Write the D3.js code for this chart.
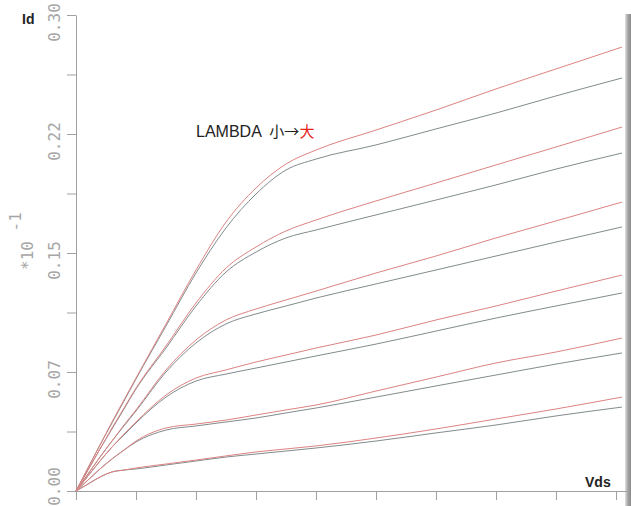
<!DOCTYPE html>
<html>
<head>
<meta charset="utf-8">
<script src="https://cdn.jsdelivr.net/npm/d3@7"></script>
<style>
  html, body { margin: 0; padding: 0; background: #fff; }
  svg { display: block; }
</style>
</head>
<body>
<svg id="chart" width="631" height="506"></svg>
<script>
// Drain voltage sample points (V) shared by every curve
const vds = [0, 0.1, 0.2, 0.3, 0.4, 0.5, 0.75, 1.0, 1.25, 1.5, 1.75, 2.0, 2.5, 3.0, 3.5, 4.0, 4.55];

// Drain current (x10^-1) for six gate voltages; "small" = low LAMBDA, "large" = high LAMBDA
const idSmall1 = [0, 0.0145, 0.0290, 0.0429, 0.0567, 0.0706, 0.1040, 0.1374, 0.1658, 0.1872, 0.2023, 0.2092, 0.2181, 0.2282, 0.2382, 0.2490, 0.2603];
const idLarge1 = [0, 0.0145, 0.0290, 0.0435, 0.0574, 0.0712, 0.1053, 0.1393, 0.1695, 0.1910, 0.2061, 0.2149, 0.2275, 0.2401, 0.2534, 0.2660, 0.2798];
const idSmall2 = [0, 0.0132, 0.0265, 0.0391, 0.0517, 0.0643, 0.0901, 0.1166, 0.1380, 0.1506, 0.1595, 0.1645, 0.1740, 0.1834, 0.1929, 0.2029, 0.2130];
const idLarge2 = [0, 0.0132, 0.0265, 0.0397, 0.0523, 0.0649, 0.0914, 0.1185, 0.1405, 0.1538, 0.1639, 0.1708, 0.1828, 0.1941, 0.2055, 0.2168, 0.2294];
const idSmall3 = [0, 0.0107, 0.0214, 0.0315, 0.0410, 0.0504, 0.0750, 0.0933, 0.1053, 0.1116, 0.1166, 0.1216, 0.1305, 0.1393, 0.1481, 0.1569, 0.1664];
const idLarge3 = [0, 0.0107, 0.0214, 0.0315, 0.0416, 0.0511, 0.0763, 0.0952, 0.1078, 0.1147, 0.1204, 0.1260, 0.1374, 0.1481, 0.1595, 0.1702, 0.1821];
const idSmall4 = [0, 0.0095, 0.0189, 0.0277, 0.0353, 0.0429, 0.0592, 0.0693, 0.0737, 0.0775, 0.0813, 0.0851, 0.0926, 0.1008, 0.1090, 0.1166, 0.1248];
const idLarge4 = [0, 0.0095, 0.0189, 0.0277, 0.0359, 0.0435, 0.0605, 0.0712, 0.0763, 0.0813, 0.0857, 0.0901, 0.0983, 0.1078, 0.1166, 0.1260, 0.1361];
const idSmall5 = [0, 0.0069, 0.0139, 0.0202, 0.0258, 0.0309, 0.0384, 0.0410, 0.0435, 0.0460, 0.0492, 0.0523, 0.0592, 0.0662, 0.0731, 0.0800, 0.0870];
const idLarge5 = [0, 0.0069, 0.0139, 0.0202, 0.0258, 0.0315, 0.0397, 0.0422, 0.0447, 0.0479, 0.0511, 0.0542, 0.0630, 0.0718, 0.0807, 0.0876, 0.0964];
const idSmall6 = [0, 0.0044, 0.0088, 0.0120, 0.0132, 0.0139, 0.0164, 0.0189, 0.0214, 0.0233, 0.0252, 0.0271, 0.0315, 0.0366, 0.0416, 0.0473, 0.0529];
const idLarge6 = [0, 0.0044, 0.0088, 0.0120, 0.0132, 0.0145, 0.0170, 0.0195, 0.0221, 0.0246, 0.0265, 0.0284, 0.0334, 0.0391, 0.0454, 0.0517, 0.0592];

const smallSeries = [idSmall1, idSmall2, idSmall3, idSmall4, idSmall5, idSmall6];
const largeSeries = [idLarge1, idLarge2, idLarge3, idLarge4, idLarge5, idLarge6];

// Axis ticks
const xTickValues = [0, 0.5, 1.0, 1.5, 2.0, 2.5, 3.0, 3.5, 4.0, 4.5];
const yTickValues = [0, 0.0375, 0.075, 0.1125, 0.15, 0.1875, 0.225, 0.2625, 0.30];
const yTickLabels = ["0.00", "", "0.07", "", "0.15", "", "0.22", "", "0.30"];

const svg = d3.select("#chart");
const axisColor = "#a0a0a0";
const smallColor = "#838c8d";
const largeColor = "#dc8482";

const x = d3.scaleLinear().domain([0, 4.6]).range([76, 628]);
const y = d3.scaleLinear().domain([0, 0.30]).range([491, 15]);

// Right-hand frame shading
const grad = svg.append("defs").append("linearGradient")
  .attr("id", "edge").attr("x1", 0).attr("x2", 1).attr("y1", 0).attr("y2", 0);
grad.append("stop").attr("offset", "0%").attr("stop-color", "#e4e4e4");
grad.append("stop").attr("offset", "45%").attr("stop-color", "#a8a8a8");
grad.append("stop").attr("offset", "100%").attr("stop-color", "#8a8a8a");
svg.append("rect").attr("x", 625).attr("y", 14).attr("width", 6).attr("height", 492)
  .attr("fill", "url(#edge)");

// X axis
const xAxis = svg.append("g")
  .attr("transform", `translate(0,${y(0)})`)
  .call(d3.axisBottom(x).tickValues(xTickValues).tickSize(9).tickSizeOuter(0).tickFormat(() => ""));
xAxis.selectAll("path, line").attr("stroke", axisColor).attr("stroke-width", 1);

// Y axis with rotated tick labels
const yAxis = svg.append("g")
  .attr("transform", `translate(${x(0)},0)`)
  .call(d3.axisLeft(y).tickValues(yTickValues).tickSize(9).tickSizeOuter(0)
    .tickFormat((d, i) => yTickLabels[i]));
yAxis.selectAll("path, line").attr("stroke", axisColor).attr("stroke-width", 1);
yAxis.selectAll("text")
  .attr("transform", "rotate(-90)")
  .attr("x", d => d === 0 ? 5 : -7)
  .attr("y", -16)
  .attr("dy", 0)
  .attr("text-anchor", "middle")
  .attr("fill", "#a6a6a6")
  .style("font-family", "'DejaVu Sans Mono', monospace")
  .style("font-size", "16px");

// Curves
const line = d3.line()
  .x((d, i) => x(vds[i]))
  .y(d => y(d))
  .curve(d3.curveMonotoneX);

svg.append("g").selectAll("path.small")
  .data(smallSeries).join("path")
  .attr("class", "small")
  .attr("d", line)
  .attr("fill", "none")
  .attr("stroke", smallColor)
  .attr("stroke-width", 1);

svg.append("g").selectAll("path.large")
  .data(largeSeries).join("path")
  .attr("class", "large")
  .attr("d", line)
  .attr("fill", "none")
  .attr("stroke", largeColor)
  .attr("stroke-width", 1);

// Axis titles
svg.append("text").attr("x", 22).attr("y", 24)
  .style("font-family", "Arial, 'Liberation Sans', sans-serif")
  .style("font-size", "14px").style("font-weight", "bold").attr("fill", "#222")
  .text("Id");

svg.append("text").attr("x", 585).attr("y", 487)
  .style("font-family", "Arial, 'Liberation Sans', sans-serif")
  .style("font-size", "14px").style("font-weight", "bold").attr("fill", "#222")
  .text("Vds");

// Scale factor label on the y axis
const scaleLabel = svg.append("text")
  .attr("transform", "translate(33,270) rotate(-90)")
  .style("font-family", "'DejaVu Sans Mono', monospace")
  .style("font-size", "16px").attr("fill", "#a6a6a6");
scaleLabel.append("tspan").text("*10 ");
scaleLabel.append("tspan").attr("dy", -12).text("-1");

// Annotation
const note = svg.append("text").attr("x", 196).attr("y", 137)
  .style("font-family", "Arial, 'Liberation Sans', sans-serif")
  .style("font-size", "16px").attr("fill", "#222");
note.append("tspan").text("LAMBDA ");
const cjk = note.append("tspan")
  .attr("dx", 4)
  .style("font-family", "'Noto Sans CJK SC', sans-serif")
  .style("font-size", "15px");
cjk.append("tspan").text("小→");
cjk.append("tspan").attr("fill", "#e8231c").text("大");
</script>
</body>
</html>
